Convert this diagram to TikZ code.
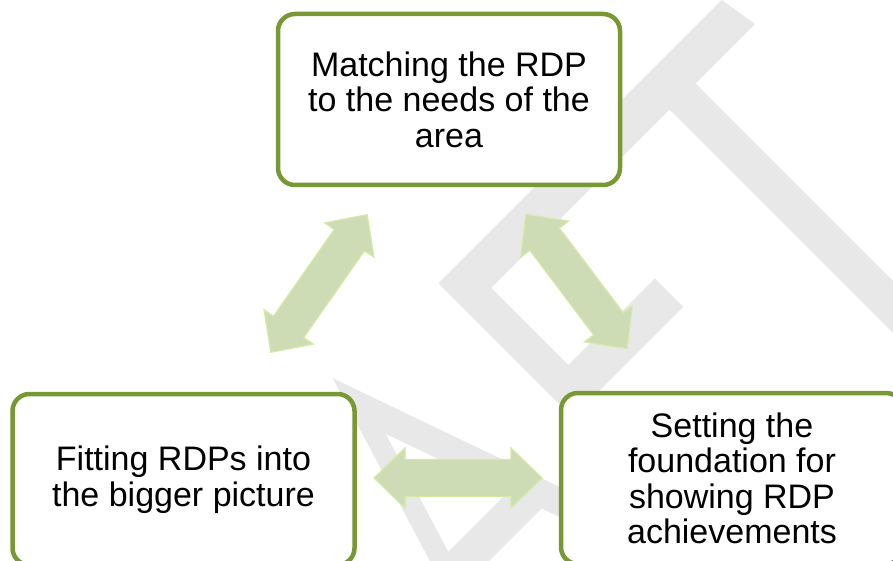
\documentclass[tikz,border=0pt]{standalone}
\usepackage{fontspec}
\setmainfont{Liberation Sans}
\definecolor{boxgreen}{RGB}{119,152,50}
\definecolor{arrowfill}{RGB}{205,220,181}
\definecolor{arrowline}{RGB}{214,233,166}
\definecolor{wmgray}{RGB}{232,232,232}
\tikzset{
  stagebox/.style={draw=boxgreen, line width=4.5pt, rounded corners=17pt, fill=white,
    minimum width=342pt, minimum height=171pt, align=center, inner sep=0pt,
    font=\fontsize{34}{35.5}\selectfont},
  blockarrow/.style={fill=arrowfill, draw=arrowline, line width=1.2pt, line join=miter},
  watermark/.style={fill=wmgray, draw=none}
}
\begin{document}
\begin{tikzpicture}[x=1pt,y=-1pt]
\useasboundingbox (0,0) rectangle (893,561);
\clip (0,0) rectangle (893,561);
\fill[white] (0,0) rectangle (893,561);
% watermark
\fill[watermark] (721.7,0) -- (755,24) -- (695.5,83.5) -- (950,338) -- (950,390)
  -- (669.5,109.5) -- (491.2,287.9) -- (568.3,365) -- (655,278.3) -- (683.3,306.7)
  -- (596.7,393.3) -- (800,596.7) -- (755,600) -- (438.3,283.3) -- cycle;
\fill[watermark] (332.7,378.2) -- (700,554.1) -- (700,584.1) -- (385.6,433.8)
  -- (474,600) -- (450.7,600) -- cycle;
\fill[watermark] (448.3,551.7) -- (507.8,492.2) -- (541.6,508.4) -- (465.7,584.3) -- cycle;
% boxes
\node[stagebox] (top) at (449,99.5) {Matching the RDP\\to the needs of the\\area};
\node[stagebox] (left) at (183.5,479.5) {Fitting RDPs into\\the bigger picture};
\node[stagebox] (right) at (732,478.5) {Setting the\\foundation for\\showing RDP\\achievements};
% arrows
\coordinate (aL) at (319,283.5);
\coordinate (aR) at (576.5,281.5);
\coordinate (aB) at (458,478);
\foreach \c/\r in {aL/55, aR/-53, aB/0}{
  \begin{scope}[shift={(\c)}, rotate=\r]
    \filldraw[blockarrow] (-84,0) -- (-53,30) -- (-53,18.5) -- (53,18.5) -- (53,30)
      -- (84,0) -- (53,-30) -- (53,-18.5) -- (-53,-18.5) -- (-53,-30) -- cycle;
  \end{scope}
}
\end{tikzpicture}
\end{document}
